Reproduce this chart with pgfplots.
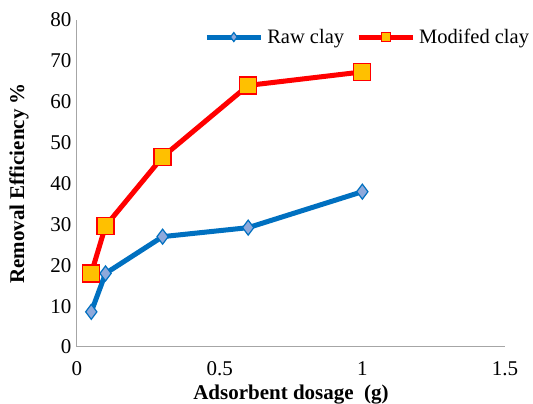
\documentclass[border=0pt]{standalone}
\usepackage{fontspec}
\setmainfont{Liberation Serif}
\usepackage{pgfplots}
\pgfplotsset{compat=1.18}
\definecolor{rawblue}{HTML}{0070C0}
\definecolor{rawfill}{HTML}{8EA9DB}
\definecolor{modred}{HTML}{FF0000}
\definecolor{modfill}{HTML}{FFC000}
\begin{document}
\begin{tikzpicture}
  \begin{axis}[
      scale only axis,
      width=428pt, height=327pt,
      xmin=0, xmax=1.5, ymin=0, ymax=80,
      xtick={0,0.5,1,1.5},
      ytick={0,10,...,80},
      axis x line=bottom, axis y line=left,
      axis line style={-, gray!70, line width=1pt},
      major tick length=0pt,
      tick label style={font=\fontsize{21}{24}\selectfont},
      /pgf/number format/assume math mode=true,
      xticklabel style={yshift=-11pt},
      yticklabel style={xshift=-2pt},
      xlabel={\textbf{Adsorbent dosage\ \ (g)}},
      ylabel={\textbf{Removal Efficiency \%}},
      label style={font=\fontsize{21}{24}\selectfont},
      xlabel style={at={(axis description cs:0.5,-0.1468)}, anchor=center},
      ylabel style={at={(axis description cs:-0.1355,0.5)}, anchor=center},
      legend style={draw=none, fill=none, at={(0.297,0.948)}, anchor=west,
        font=\fontsize{20.5}{24}\selectfont, legend columns=-1,
        inner sep=0pt,
        /tikz/every odd column/.append style={column sep=2pt},
        /tikz/every even column/.append style={column sep=10pt}},
      legend image code/.code={%
        \draw[#1, mark=none] (0pt,0pt) -- (54pt,0pt);
        \draw[#1, mark size=4.5pt] plot coordinates {(27pt,0pt)};},
      clip=false,
    ]
    \addplot[rawblue, line width=5pt, mark=diamond*, mark size=7.5pt,
      mark options={fill=rawfill, draw=rawblue, line width=1.2pt}]
      coordinates {(0.05,8.6) (0.1,18) (0.3,27) (0.6,29.2) (1,38)};
    \addlegendentry{Raw clay}
    \addplot[modred, line width=5pt, mark=square*, mark size=8.5pt,
      mark options={fill=modfill, draw=modred, line width=1.2pt}]
      coordinates {(0.05,18) (0.1,29.6) (0.3,46.5) (0.6,64) (1,67.3)};
    \addlegendentry{Modifed clay}
  \end{axis}
  \pgfresetboundingbox
  \path[use as bounding box] (-77pt,-57pt) rectangle (456pt,347pt);
\end{tikzpicture}
\end{document}
